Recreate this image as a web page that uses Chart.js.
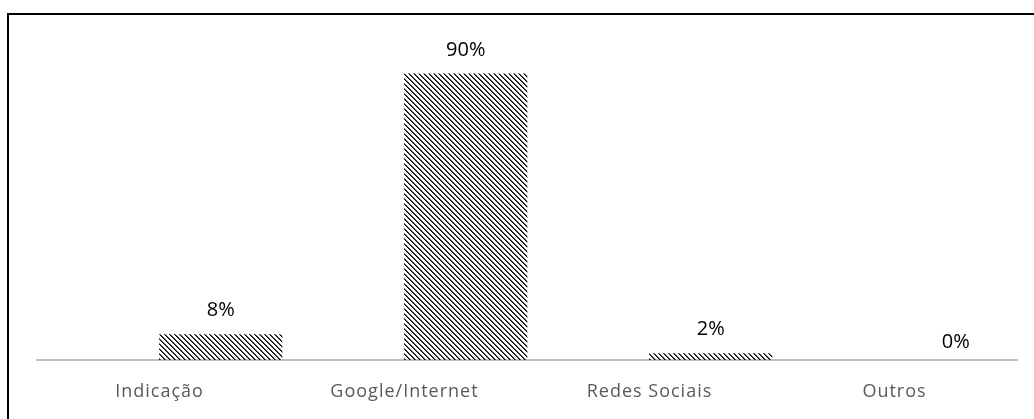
<!DOCTYPE html>
<html>
<head>
<meta charset="utf-8">
<script src="https://cdn.jsdelivr.net/npm/chart.js@4/dist/chart.umd.min.js"></script>
<style>
  html, body { margin: 0; padding: 0; background: #fff; }
  #wrap { position: relative; width: 1034px; height: 419px; }
  #frame { position: absolute; left: 7px; top: 13px; right: 0; bottom: 0;
           border-left: 2px solid #000; border-top: 2px solid #000; pointer-events: none; }
</style>
</head>
<body>
<div id="wrap">
  <canvas id="grafico" width="1034" height="419"></canvas>
  <div id="frame"></div>
</div>
<script>
// dados
const categorias = ['Indicação', 'Google/Internet', 'Redes Sociais', 'Outros'];
const valores = [8, 90, 2, 0];
const rotulos = ['8%', '90%', '2%', '0%'];
const vazio = [null, null, null, null]; // série vazia (empurra as barras para a direita)

// hachura diagonal
function hachura() {
  const t = document.createElement('canvas');
  t.width = 5; t.height = 5;
  const c = t.getContext('2d');
  for (let y = 0; y < 5; y++) {
    c.fillStyle = '#000';
    c.fillRect(y % 5, y, 1, 1);
    c.fillStyle = '#555';
    c.fillRect((y + 1) % 5, y, 1, 1);
  }
  return c.createPattern(t, 'repeat');
}
const padrao = hachura();

const rotulosPlugin = {
  id: 'rotulos',
  beforeDraw(chart) {
    chart.ctx.letterSpacing = '1px';
  },
  afterDatasetsDraw(chart) {
    const ctx = chart.ctx;
    const meta = chart.getDatasetMeta(1);
    ctx.save();
    ctx.letterSpacing = '0px';
    ctx.font = '20px "Open Sans"';
    ctx.fillStyle = '#000';
    ctx.textAlign = 'center';
    ctx.textBaseline = 'middle';
    meta.data.forEach((bar, i) => {
      const off = valores[i] === 0 ? 18 : 24;
      ctx.fillText(rotulos[i], bar.x, bar.y - off);
    });
    ctx.restore();
  }
};

const ctx = document.getElementById('grafico').getContext('2d');
new Chart(ctx, {
  type: 'bar',
  data: {
    labels: categorias,
    datasets: [
      { data: vazio, backgroundColor: 'rgba(0,0,0,0)', borderWidth: 0 },
      {
        data: valores,
        backgroundColor: (c) => (valores[c.dataIndex] ? padrao : 'rgba(0,0,0,0)'),
        borderWidth: 0
      }
    ]
  },
  options: {
    responsive: false,
    animation: false,
    datasets: { bar: { categoryPercentage: 1, barPercentage: 1 } },
    layout: { padding: { left: 37, right: 17, top: 42, bottom: 0 } },
    plugins: { legend: { display: false }, tooltip: { enabled: false } },
    scales: {
      x: {
        grid: { display: false, drawTicks: false },
        border: { color: '#bfbfbf', width: 2 },
        ticks: { color: '#595959', padding: 21, font: { family: 'Open Sans', size: 18 } },
        afterFit(scale) { scale.height = 59; }
      },
      y: {
        display: false,
        min: 0,
        max: 100
      }
    }
  },
  plugins: [rotulosPlugin]
});
</script>
</body>
</html>
